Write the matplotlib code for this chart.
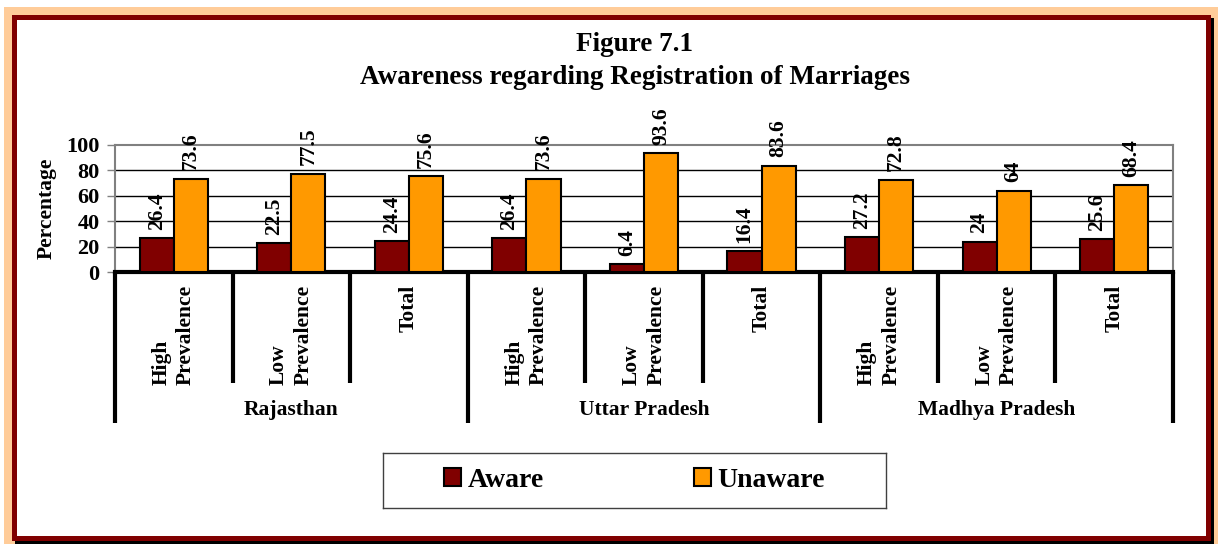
import matplotlib
matplotlib.use("Agg")
import matplotlib.pyplot as plt
from matplotlib.patches import Rectangle, Patch
from matplotlib.transforms import blended_transform_factory
import numpy as np

# ---- data ----
states = ["Rajasthan", "Uttar Pradesh", "Madhya Pradesh"]
subgroups = ["High\nPrevalence", "Low\nPrevalence", "Total"]
aware = [26.4, 22.5, 24.4, 26.4, 6.4, 16.4, 27.2, 24.0, 25.6]
unaware = [73.6, 77.5, 75.6, 73.6, 93.6, 83.6, 72.8, 64.0, 68.4]
aware_labels = ["26.4", "22.5", "24.4", "26.4", "6.4", "16.4", "27.2", "24", "25.6"]
unaware_labels = ["73.6", "77.5", "75.6", "73.6", "93.6", "83.6", "72.8", "64", "68.4"]
yticks = [0, 20, 40, 60, 80, 100]
title = "Figure 7.1\nAwareness regarding Registration of Marriages"
series_names = ["Aware", "Unaware"]

W, H = 1218, 544
C_AWARE = "#800000"
C_UNAWARE = "#FF9900"
FONT = "Liberation Serif"

plt.rcParams["font.family"] = [FONT, "DejaVu Serif"]
plt.rcParams["font.weight"] = "bold"

fig = plt.figure(figsize=(W / 100, H / 100), dpi=100)
fig.patch.set_facecolor("white")


def px_rect(x0, y0, x1, y1, color, z=0):
    r = Rectangle((x0 / W, 1 - y1 / H), (x1 - x0) / W, (y1 - y0) / H,
                  transform=fig.transFigure, facecolor=color, edgecolor="none",
                  zorder=z)
    fig.patches.append(r)


# frames
px_rect(4, 7, W, H, "#FFCC99", z=0)
px_rect(15, 18, 1214, 544, "black", z=1)          # shadow
px_rect(12, 15, 1211, 541, C_AWARE, z=2)           # dark red frame
px_rect(17, 20, 1206, 536, "white", z=3)           # inner white

# axes
ax_l, ax_r, ax_t, ax_b = 115, 1173, 145, 272
ax = fig.add_axes([ax_l / W, 1 - ax_b / H, (ax_r - ax_l) / W, (ax_b - ax_t) / H])
ax.set_zorder(5)
ax.patch.set_alpha(0)

n = len(aware)
x = np.arange(n)
bw = 0.29
ax.bar(x - bw / 2, aware, bw, color=C_AWARE, edgecolor="black", linewidth=1.5, zorder=3)
ax.bar(x + bw / 2, unaware, bw, color=C_UNAWARE, edgecolor="black", linewidth=1.5, zorder=3)

for i in range(n):
    ax.annotate(aware_labels[i], (x[i] - bw / 2, aware[i]), xytext=(0, 6),
                textcoords="offset points", rotation=90, ha="center", va="bottom",
                fontsize=15.5, fontweight="bold", annotation_clip=False)
    ax.annotate(unaware_labels[i], (x[i] + bw / 2, unaware[i]), xytext=(0, 6),
                textcoords="offset points", rotation=90, ha="center", va="bottom",
                fontsize=15.5, fontweight="bold", annotation_clip=False)

ax.set_xlim(-0.5, n - 0.5)
ax.set_ylim(0, 100)
ax.set_yticks(yticks)
ax.set_yticklabels([str(t) for t in yticks], fontsize=16, fontweight="bold")
ax.tick_params(axis="y", direction="out", length=6, width=1, color="#808080", pad=5)
ax.set_xticks([])
for yv in yticks[1:-1]:
    ax.axhline(yv, color="black", linewidth=1, zorder=1)
for s in ["top", "right", "left"]:
    ax.spines[s].set_color("#808080")
    ax.spines[s].set_linewidth(1.5)
ax.spines["bottom"].set_color("black")
ax.spines["bottom"].set_linewidth(3)
ax.set_ylabel("Percentage", fontsize=15.5, fontweight="bold", labelpad=7)

# category axis (two levels)
tr = blended_transform_factory(ax.transData, ax.transAxes)
ah = ax_b - ax_t


def ay(py):
    return -(py - ax_b) / ah


for k in range(n + 1):
    xb = k - 0.5
    bottom = ay(423) if k % 3 == 0 else ay(383)
    ax.plot([xb, xb], [0, bottom], color="black", linewidth=3, transform=tr,
            clip_on=False, solid_capstyle="butt", zorder=6)

for i in range(n):
    ax.text(x[i], ay(285), subgroups[i % 3], rotation=90, ha="center", va="top",
            multialignment="left", fontsize=15.5, fontweight="bold", transform=tr,
            linespacing=1.3)

for g, name in enumerate(states):
    ax.text(g * 3 + 1, ay(410), name, ha="center", va="center", fontsize=15.5,
            fontweight="bold", transform=tr)

# title
fig.text(635 / W, 1 - 61 / H, title, ha="center", va="center",
         fontsize=19.5, fontweight="bold", linespacing=1.45, zorder=10)

# legend
handles = [Patch(facecolor=C_AWARE, edgecolor="black", linewidth=1.5),
           Patch(facecolor=C_UNAWARE, edgecolor="black", linewidth=1.5)]
lx0, ly0, lx1, ly1 = 383, 453, 886, 508
lax = fig.add_axes([lx0 / W, 1 - ly1 / H, (lx1 - lx0) / W, (ly1 - ly0) / H])
lax.set_zorder(6)
lax.set_xticks([])
lax.set_yticks([])
for s in lax.spines.values():
    s.set_color("#404040")
    s.set_linewidth(1)
leg = lax.legend(handles, series_names, loc="center", ncol=2, frameon=False,
                 prop={"family": FONT, "weight": "bold", "size": 20},
                 handlelength=0.6, handleheight=0.6, handletextpad=0.25,
                 columnspacing=5.4)

fig.savefig("out.png", dpi=100)
